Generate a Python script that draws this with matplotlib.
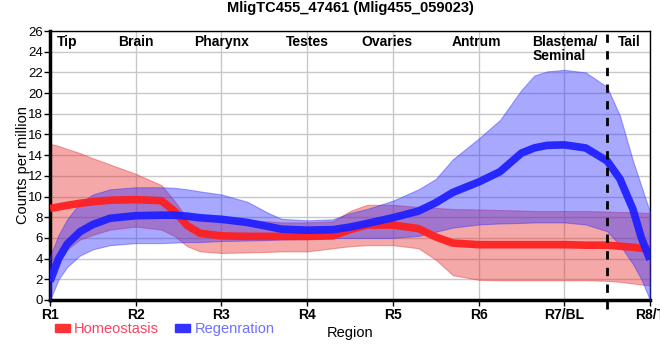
import matplotlib
matplotlib.use("Agg")
import matplotlib.pyplot as plt
from matplotlib.patches import Patch

plt.rcParams['font.family'] = ['Liberation Sans', 'DejaVu Sans']

# positions along the body (1 = R1 ... 8 = R8/T)
pos = [1.0, 1.1, 1.2, 1.35, 1.5, 1.7, 2.0, 2.3, 2.45, 2.6, 2.75, 3.0, 3.3, 3.55, 3.7,
       4.0, 4.3, 4.5, 4.7, 5.0, 5.3, 5.5, 5.7, 6.0, 6.25, 6.5, 6.65, 6.8, 7.0, 7.25,
       7.5, 7.65, 7.8, 7.9, 8.0]

homeo = [8.85, 9.0, 9.15, 9.35, 9.5, 9.65, 9.7, 9.6, 8.6, 7.2, 6.45, 6.2, 6.15, 6.15, 6.15,
         6.15, 6.2, 6.8, 7.25, 7.25, 6.9, 6.1, 5.5, 5.35, 5.35, 5.35, 5.35, 5.35, 5.35, 5.3,
         5.3, 5.2, 5.1, 5.0, 4.9]
homeo_hi = [15.1, 14.9, 14.6, 14.2, 13.7, 13.1, 12.2, 11.1, 9.6, 7.9, 7.6, 7.7, 7.7, 7.6, 7.5,
            7.5, 7.6, 8.6, 9.2, 9.2, 9.0, 8.9, 8.8, 8.75, 8.7, 8.65, 8.6, 8.6, 8.6, 8.6,
            8.55, 8.5, 8.5, 8.45, 8.4]
homeo_lo = [2.1, 3.6, 4.9, 5.85, 6.3, 6.8, 7.1, 6.8, 6.2, 5.2, 4.7, 4.55, 4.6, 4.65, 4.7,
            4.7, 5.0, 5.2, 5.3, 5.3, 5.0, 3.9, 2.4, 1.95, 1.9, 1.9, 1.9, 1.9, 1.9, 1.9,
            1.85, 1.75, 1.6, 1.5, 1.4]

regen = [1.8, 4.0, 5.4, 6.6, 7.3, 7.9, 8.15, 8.2, 8.2, 8.1, 7.95, 7.8, 7.5, 7.1, 6.85,
         6.75, 6.8, 7.05, 7.4, 7.95, 8.6, 9.4, 10.4, 11.4, 12.4, 14.2, 14.7, 14.95, 15.0, 14.7,
         13.45, 11.7, 8.8, 6.0, 3.9]
regen_hi = [4.2, 6.3, 7.8, 9.4, 10.2, 10.7, 10.9, 10.9, 10.85, 10.7, 10.5, 10.2, 9.5, 8.4, 7.85,
            7.7, 7.8, 8.4, 8.8, 9.6, 10.7, 11.7, 13.6, 15.6, 17.4, 20.3, 21.7, 22.1, 22.25, 22.0,
            20.6, 17.8, 13.5, 11.0, 8.5]
regen_lo = [0.0, 2.0, 3.2, 4.3, 4.9, 5.3, 5.5, 5.5, 5.55, 5.6, 5.6, 5.7, 5.75, 5.8, 5.85,
            5.9, 6.0, 6.0, 6.0, 6.0, 6.2, 6.6, 7.0, 7.3, 7.4, 7.45, 7.5, 7.5, 7.5, 7.3,
            6.65, 5.3, 3.5, 2.0, 0.0]

tick_labels = ['R1', 'R2', 'R3', 'R4', 'R5', 'R6', 'R7/BL', 'R8/T']
regions = ['Tip', 'Brain', 'Pharynx', 'Testes', 'Ovaries', 'Antrum', 'Blastema/\nSeminal', 'Tail']
region_x = [1.2, 2.0, 3.0, 4.0, 4.93, 5.97, 6.63, 7.76]

fig = plt.figure(figsize=(6.6, 3.6), dpi=100)
ax = fig.add_axes([0.0758, 0.1667, 0.909, 0.747])

red = '#ff2020'
blue = '#2020ff'

ax.fill_between(pos, homeo_lo, homeo_hi, color='#e83030', alpha=0.42, linewidth=0.8,
                edgecolor='#e83030', zorder=2)
ax.fill_between(pos, regen_lo, regen_hi, color='#3030ff', alpha=0.42, linewidth=0.8,
                edgecolor='#3030ff', zorder=3)
ax.plot(pos, homeo, color=red, lw=5.5, solid_capstyle='butt', solid_joinstyle='round',
        alpha=0.95, zorder=4)
ax.plot(pos, regen, color=blue, lw=5.5, solid_capstyle='butt', solid_joinstyle='round',
        alpha=0.95, zorder=5)

ax.axvline(7.5, ymin=-0.035, ymax=1, color='black', lw=2, linestyle=(0, (3, 3)),
           clip_on=False, zorder=6)

ax.set_xlim(1, 8)
ax.set_ylim(0, 26)
ax.set_xticks(range(1, 9))
ax.set_xticklabels(tick_labels, fontsize=10, fontweight='bold')
ax.set_yticks(range(0, 27, 2))
ax.tick_params(axis='y', labelsize=9.5, length=4, width=1, pad=1)
ax.tick_params(axis='x', length=4, width=1, pad=2)
ax.grid(True, color='#c8c8c8', lw=1, zorder=0)
ax.set_axisbelow(True)

for s in ['left', 'bottom']:
    ax.spines[s].set_linewidth(2.5)
for s in ['top', 'right']:
    ax.spines[s].set_linewidth(1)

for name, xr in zip(regions, region_x):
    if '\n' in name:
        ax.text(xr, 25.6, name, ha='left', va='top', fontsize=10, fontweight='bold',
                linespacing=1.0)
    else:
        ax.text(xr, 25.6, name, ha='center', va='top', fontsize=10, fontweight='bold')

ax.set_title('MligTC455_47461 (Mlig455_059023)', fontsize=10.5, fontweight='bold', pad=14)
ax.set_ylabel('Counts per million', fontsize=10.5, labelpad=-1)
ax.set_xlabel('Region', fontsize=10.5, labelpad=3)

handles = [Patch(color='#ff3333'), Patch(color='#3333ff')]
fig.legend(handles, ['Homeostasis', 'Regenration'], loc='center left',
           bbox_to_anchor=(0.083, 0.086), ncol=2, frameon=False, fontsize=10.5,
           borderpad=0, borderaxespad=0,
           handlelength=1.03, handleheight=0.5, handletextpad=0.3, columnspacing=1.1,
           labelcolor=['#ff4060', '#7070ff'])

fig.savefig('out.png', dpi=100)
